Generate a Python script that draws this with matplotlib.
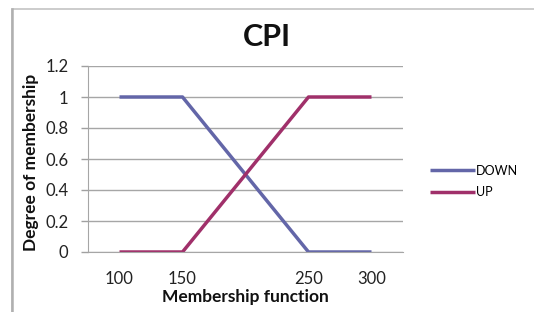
import matplotlib
matplotlib.use("Agg")
import matplotlib.pyplot as plt
from matplotlib.patches import Rectangle

x_values = [100, 150, 250, 300]
down_values = [1, 1, 0, 0]
up_values = [0, 0, 1, 1]
y_ticks = [0, 0.2, 0.4, 0.6, 0.8, 1, 1.2]
y_tick_labels = ["0", "0.2", "0.4", "0.6", "0.8", "1", "1.2"]

plt.rcParams['font.family'] = ['Lato', 'DejaVu Sans']

W, H = 534, 312
fig = plt.figure(figsize=(W / 100, H / 100), dpi=100)
fig.patch.set_facecolor('white')

# outer chart frame
fig.add_artist(Rectangle((12 / W, -0.1), 1.2, 1 + 0.1 - 9 / H, transform=fig.transFigure,
                         fill=False, edgecolor='#c4c4c4', linewidth=1.2))
fig.add_artist(plt.Line2D([12 / W, 12 / W], [-0.1, 1 - 9 / H], transform=fig.transFigure,
                          color='#b0b0b0', linewidth=1.8))

ax = fig.add_axes([88 / W, 1 - 252 / H, (403 - 88) / W, (252 - 66) / H])
ax.plot(x_values, down_values, color='#6366A8', linewidth=2.5, label='DOWN', solid_capstyle='butt')
ax.plot(x_values, up_values, color='#A0306A', linewidth=2.5, label='UP', solid_capstyle='butt')

ax.set_xlim(75, 325)
ax.set_ylim(0, 1.2)
ax.set_yticks(y_ticks)
ax.set_yticklabels(y_tick_labels)
ax.set_xticks(x_values)
ax.set_xticklabels([str(v) for v in x_values])
ax.tick_params(axis='x', length=0, pad=14, labelsize=12, colors='#222222')
ax.tick_params(axis='y', length=5, width=1, color='#a0a0a0', pad=9, labelsize=12, labelcolor='#222222')
ax.yaxis.grid(True, color='#a6a6a6', linewidth=1)
ax.set_axisbelow(True)
for s in ['top', 'right']:
    ax.spines[s].set_visible(False)
ax.spines['left'].set_color('#a6a6a6')
ax.spines['bottom'].set_color('#a6a6a6')

ax.set_xlabel('Membership function', fontsize=12.5, fontweight='bold', labelpad=1, color='#111111')
ax.set_ylabel('Degree of membership', fontsize=12.5, fontweight='bold', color='#111111')
ax.yaxis.set_label_coords(-0.155, 0.48)

fig.text(267 / W, 1 - 37 / H, 'CPI', fontsize=22, fontweight='bold', ha='center', va='center', color='#111111')

leg = ax.legend(loc='center left', bbox_to_anchor=(1.05, 0.38), frameon=False, fontsize=9,
                handlelength=3.6, handletextpad=0.1, labelspacing=0.75)

fig.savefig('out.png', dpi=100, facecolor='white')
